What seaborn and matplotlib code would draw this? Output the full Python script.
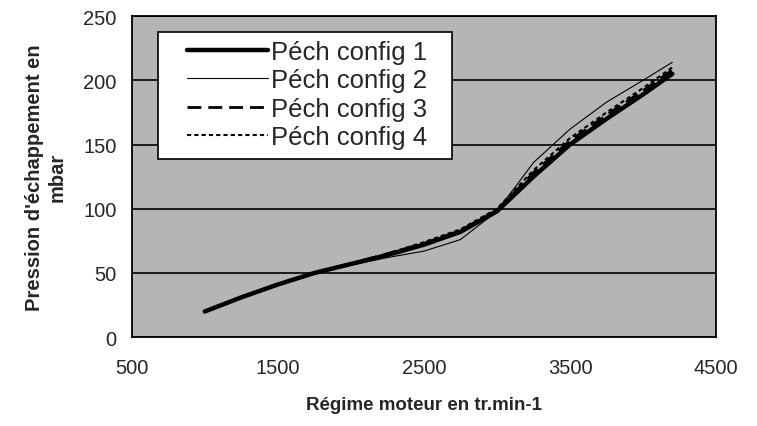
import pandas as pd
import matplotlib.pyplot as plt
import seaborn as sns
from matplotlib.patches import Rectangle

# engine speed (tr/min) and exhaust back-pressure (mbar) per configuration
regime = [1000, 1250, 1500, 1750, 2000, 2250, 2500, 2750, 3000, 3250, 3500, 3750, 4000, 4200]
config_1 = [20, 31, 41, 50, 57, 64, 72, 82, 98, 125, 150, 170, 189, 205]
config_2 = [20, 31, 41, 49, 56, 62, 67, 76, 98, 136, 162, 183, 200, 214]
config_3 = [20, 31, 41, 50, 57, 65, 73, 83, 99, 128, 153, 173, 192, 208]
config_4 = [20, 31, 41, 50, 57, 65, 74, 84, 100, 130, 155, 175, 194, 210]
labels = ["Péch config 1", "Péch config 2", "Péch config 3", "Péch config 4"]

sns.set_style("white")
plt.rcParams["font.family"] = ["Liberation Sans", "DejaVu Sans"]

fig = plt.figure(figsize=(7.57, 4.27), dpi=100)
ax = fig.add_axes([0.174, 0.208, 0.772, 0.752])
ax.set_facecolor("#b5b5b5")

styles = [
    dict(linewidth=3.2, linestyle="-"),
    dict(linewidth=0.8, linestyle="-"),
    dict(linewidth=2.0, linestyle=(0, (5, 2.5))),
    dict(linewidth=1.5, linestyle=(0, (2, 1.5))),
]
for vals, lab, st in zip([config_1, config_2, config_3, config_4], labels, styles):
    sns.lineplot(x=regime, y=vals, ax=ax, color="black", label=lab, **st)

ax.set_xlim(500, 4500)
ax.set_ylim(0, 250)
ax.set_xticks([500, 1500, 2500, 3500, 4500])
ax.set_yticks([0, 50, 100, 150, 200, 250])
ax.yaxis.grid(True, color="black", linewidth=1.2)
ax.xaxis.grid(False)
ax.set_axisbelow(True)
for s in ax.spines.values():
    s.set_color("black")
    s.set_linewidth(1.3)
ax.tick_params(axis="both", direction="out", length=5, width=1, color="black",
               labelsize=14.5, pad=6)
ax.tick_params(axis="x", pad=10)

ax.set_xlabel("Régime moteur en tr.min-1", fontsize=13.5, fontweight="bold", labelpad=14)
ax.set_ylabel("Pression d'échappement en\nmbar", fontsize=14.5, fontweight="bold", labelpad=12)

# legend box: white frame drawn separately, wider padding on the sides
ax.add_patch(Rectangle((0.045, 0.555), 0.503, 0.395, transform=ax.transAxes,
                       facecolor="white", edgecolor="black", linewidth=1.2, zorder=4))
leg = ax.legend(loc="upper left", bbox_to_anchor=(0.094, 0.926), fontsize=18.5,
                frameon=False, handlelength=3.15, handletextpad=0.15,
                labelspacing=0.17, borderpad=0, borderaxespad=0)
leg.set_zorder(5)

fig.savefig("out.png", dpi=100)
